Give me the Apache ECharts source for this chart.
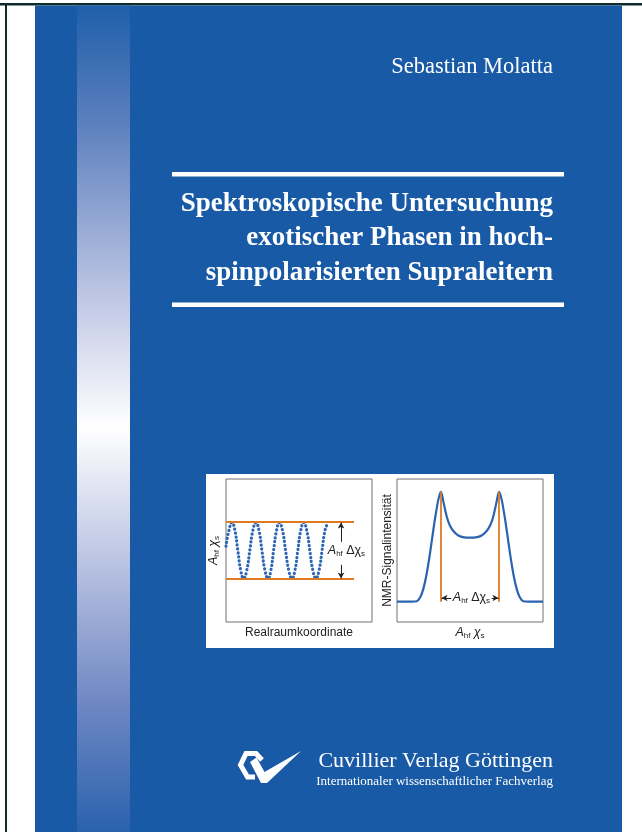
<!DOCTYPE html>
<html>
<head>
<meta charset="utf-8">
<script src="https://cdn.jsdelivr.net/npm/echarts/dist/echarts.min.js"></script>
<style>html,body{margin:0;padding:0;background:#fff;}#c{width:642px;height:832px;}</style>
</head>
<body>
<div id="c"></div>
<script>
// ---- data (panel units 0..10) ----
const waveX = [0.00,0.20,0.41,0.61,0.81,1.01,1.21,1.42,1.63,1.84,2.05,2.26,2.46,2.67,2.88,3.07,3.26,3.46,3.65,3.87,4.08,4.30,4.52,4.72,4.92,5.12,5.32,5.53,5.74,5.95,6.16,6.37,6.58,6.78,6.97];
const waveY = [5.3,6.4,6.95,6.4,5.0,3.6,3.05,3.6,5.0,6.4,6.95,6.4,5.0,3.6,3.05,3.6,5.0,6.4,6.95,6.4,5.0,3.6,3.05,3.6,5.0,6.4,6.95,6.4,5.0,3.6,3.05,3.6,5.0,6.4,6.9];
const specX = [0,1.0,1.35,1.6,1.8,2.0,2.2,2.4,2.6,2.8,2.92,3.0,3.08,3.2,3.4,3.6,3.86,4.2,4.6,5.0,5.4,5.8,6.14,6.4,6.6,6.8,6.92,7.0,7.08,7.2,7.4,7.6,7.8,8.0,8.2,8.4,8.65,9.0,10];
const specY = [1.42,1.42,1.45,1.75,2.3,3.2,4.4,5.8,7.2,8.4,8.9,9.1,8.9,8.3,7.4,6.8,6.36,6.05,5.92,5.9,5.92,6.05,6.36,6.8,7.4,8.3,8.9,9.1,8.9,8.4,7.2,5.8,4.4,3.2,2.3,1.75,1.45,1.42,1.42];
const bandLevels = [3, 7];       // orange horizontal lines (left)
const bandEndX = 8.77;
const arrowX = 7.88;
const labelX = 8.25;
const peakX = [3, 7];            // orange vertical lines (right)
const baseLevel = 1.42, peakLevel = 9.1, arrowY = 1.68;
const titleLines = ['Spektroskopische Untersuchung', 'exotischer Phasen in hoch-', 'spinpolarisierten Supraleitern'];
const author = 'Sebastian Molatta';
const publisher = 'Cuvillier Verlag Göttingen';
const publisherSub = 'Internationaler wissenschaftlicher Fachverlag';
const xName1 = 'Realraumkoordinate';
const yName2 = 'NMR-Signalintensität';

const SANS = 'Liberation Sans, Arial, sans-serif';
const SERIF = 'Liberation Serif, Times New Roman, serif';
const ORANGE = '#df7a20';
const BLUE = '#185aa5';
const rich = {
  i: {fontStyle: 'italic', fontSize: 12.5, fontFamily: SANS, color: '#222'},
  n: {fontSize: 12.5, fontFamily: SANS, color: '#222'},
  s: {fontSize: 8, fontFamily: SANS, color: '#222', padding: [6, 0, 0, 0]}
};
const symName = '{i|A}{s|hf} {i|χ}{s|s}';
const deltaName = '{i|A}{s|hf} {n|Δχ}{s|s}';

function zip(xs, ys) { return xs.map((x, i) => [x, ys[i]]); }

const chart = echarts.init(document.getElementById('c'), null, {renderer: 'canvas'});
const axisOff = {show: true, axisLine: {show: false}, axisTick: {show: false}, axisLabel: {show: false}, splitLine: {show: false}, min: 0, max: 10, type: 'value'};

const option = {
  backgroundColor: '#ffffff',
  animation: false,
  grid: [
    {left: 226, top: 479, width: 146, height: 143, show: true, borderColor: '#707070', borderWidth: 1, backgroundColor: 'transparent'},
    {left: 397, top: 479, width: 146, height: 143, show: true, borderColor: '#707070', borderWidth: 1, backgroundColor: 'transparent'}
  ],
  xAxis: [
    Object.assign({}, axisOff, {gridIndex: 0, name: xName1, nameLocation: 'middle', nameGap: 5, nameTextStyle: {fontFamily: SANS, fontSize: 12, color: '#222', verticalAlign: 'top'}}),
    Object.assign({}, axisOff, {gridIndex: 1, name: symName, nameLocation: 'middle', nameGap: 4, nameTextStyle: {rich: rich, verticalAlign: 'top'}})
  ],
  yAxis: [
    Object.assign({}, axisOff, {gridIndex: 0, name: symName, nameLocation: 'middle', nameGap: 5, nameRotate: 90, nameTextStyle: {rich: rich}}),
    Object.assign({}, axisOff, {gridIndex: 1, name: yName2, nameLocation: 'middle', nameGap: 3, nameRotate: 90, nameTextStyle: {fontFamily: SANS, fontSize: 12, color: '#222'}})
  ],
  graphic: [
    // page edges
    {type: 'rect', z: -5, shape: {x: 0, y: 3, width: 642, height: 2.5}, style: {fill: '#0e2d2a'}},
    {type: 'rect', z: -5, shape: {x: 5, y: 3, width: 2, height: 829}, style: {fill: '#0e2d2a'}},
    // blue cover
    {type: 'rect', z: -4, shape: {x: 35, y: 5.5, width: 587, height: 827}, style: {fill: BLUE}},
    // gradient strip
    {type: 'rect', z: -3, shape: {x: 77, y: 5.5, width: 53, height: 827}, style: {fill: new echarts.graphic.LinearGradient(0, 0, 0, 1, [
      {offset: 0, color: '#1f5faa'}, {offset: 0.14, color: '#5b7fbd'}, {offset: 0.36, color: '#c2c9e5'},
      {offset: 0.51, color: '#ffffff'}, {offset: 0.66, color: '#c0c8e4'}, {offset: 0.84, color: '#7088c4'}, {offset: 1, color: '#2a62ac'}])}},
    // white bars around title
    {type: 'rect', z: -3, shape: {x: 172, y: 172, width: 392, height: 4.5}, style: {fill: '#ffffff'}},
    {type: 'rect', z: -3, shape: {x: 172, y: 302.5, width: 392, height: 4.5}, style: {fill: '#ffffff'}},
    // inset white box
    {type: 'rect', z: -2, shape: {x: 206, y: 474, width: 348, height: 174}, style: {fill: '#ffffff'}},
    // texts
    {type: 'text', z: 5, style: {text: author, x: 553, y: 67.5, align: 'right', verticalAlign: 'middle', font: '22.5px ' + SERIF, fill: '#ffffff'}},
    {type: 'text', z: 5, style: {text: titleLines[0], x: 553, y: 204, align: 'right', verticalAlign: 'middle', font: 'bold 27px ' + SERIF, fill: '#ffffff'}},
    {type: 'text', z: 5, style: {text: titleLines[1], x: 553, y: 238, align: 'right', verticalAlign: 'middle', font: 'bold 27px ' + SERIF, fill: '#ffffff'}},
    {type: 'text', z: 5, style: {text: titleLines[2], x: 553, y: 273, align: 'right', verticalAlign: 'middle', font: 'bold 27px ' + SERIF, fill: '#ffffff'}},
    {type: 'text', z: 5, style: {text: publisher, x: 553, y: 761.5, align: 'right', verticalAlign: 'middle', font: '22px ' + SERIF, fill: '#ffffff'}},
    {type: 'text', z: 5, style: {text: publisherSub, x: 553, y: 781.5, align: 'right', verticalAlign: 'middle', font: '13px ' + SERIF, fill: '#ffffff'}},
    // publisher logo
    {type: 'polyline', z: 5, shape: {points: [[262, 760], [256, 753.5], [246, 753.5], [240.5, 765], [247.5, 777], [255, 777]]}, style: {stroke: '#ffffff', lineWidth: 5, fill: null, lineJoin: 'miter'}},
    {type: 'polygon', z: 5, shape: {points: [[250, 762], [256.5, 757.5], [264.5, 772], [301, 751], [267, 783], [261, 783]]}, style: {fill: '#ffffff'}}
  ],
  series: [
    {
      type: 'line', xAxisIndex: 0, yAxisIndex: 0, data: zip(waveX, waveY), smooth: 0.5, symbol: 'none', z: 4,
      lineStyle: {color: '#2c66b2', width: 3.2, type: [0.1, 3.9], cap: 'round'},
      markLine: {
        silent: true, animation: false, symbol: 'none', label: {show: false},
        data: [
          [{coord: [0, bandLevels[0]], lineStyle: {color: ORANGE, width: 1.8, type: 'solid'}}, {coord: [bandEndX, bandLevels[0]]}],
          [{coord: [0, bandLevels[1]], lineStyle: {color: ORANGE, width: 1.8, type: 'solid'}}, {coord: [bandEndX, bandLevels[1]]}],
          [{coord: [arrowX, 5.6], symbol: 'none', lineStyle: {color: '#222', width: 1, type: 'solid'}}, {coord: [arrowX, 6.95], symbol: 'arrow', symbolSize: [5, 6]}],
          [{coord: [arrowX, 4.0], symbol: 'none', lineStyle: {color: '#222', width: 1, type: 'solid'}}, {coord: [arrowX, 3.05], symbol: 'arrow', symbolSize: [5, 6]}]
        ]
      },
      markPoint: {
        silent: true, animation: false,
        data: [{coord: [labelX, 5.0], symbol: 'rect', symbolSize: 1, itemStyle: {color: 'rgba(0,0,0,0)'},
          label: {show: true, position: 'inside', formatter: deltaName, rich: rich}}]
      }
    },
    {
      type: 'line', xAxisIndex: 1, yAxisIndex: 1, data: zip(specX, specY), smooth: 0.3, symbol: 'none', z: 4,
      lineStyle: {color: '#2a64b1', width: 2.2},
      markLine: {
        silent: true, animation: false, symbol: 'none', label: {show: false},
        data: [
          [{coord: [peakX[0], baseLevel], lineStyle: {color: ORANGE, width: 1.8, type: 'solid'}}, {coord: [peakX[0], peakLevel]}],
          [{coord: [peakX[1], baseLevel], lineStyle: {color: ORANGE, width: 1.8, type: 'solid'}}, {coord: [peakX[1], peakLevel]}],
          [{coord: [3.72, arrowY], symbol: 'none', lineStyle: {color: '#222', width: 1, type: 'solid'}}, {coord: [peakX[0] + 0.05, arrowY], symbol: 'arrow', symbolSize: [5, 6]}],
          [{coord: [6.48, arrowY], symbol: 'none', lineStyle: {color: '#222', width: 1, type: 'solid'}}, {coord: [peakX[1] - 0.05, arrowY], symbol: 'arrow', symbolSize: [5, 6]}]
        ]
      },
      markPoint: {
        silent: true, animation: false,
        data: [{coord: [5.1, arrowY], symbol: 'rect', symbolSize: 1, itemStyle: {color: 'rgba(0,0,0,0)'},
          label: {show: true, position: 'inside', formatter: deltaName, rich: rich}}]
      }
    }
  ]
};
chart.setOption(option);
</script>
</body>
</html>
